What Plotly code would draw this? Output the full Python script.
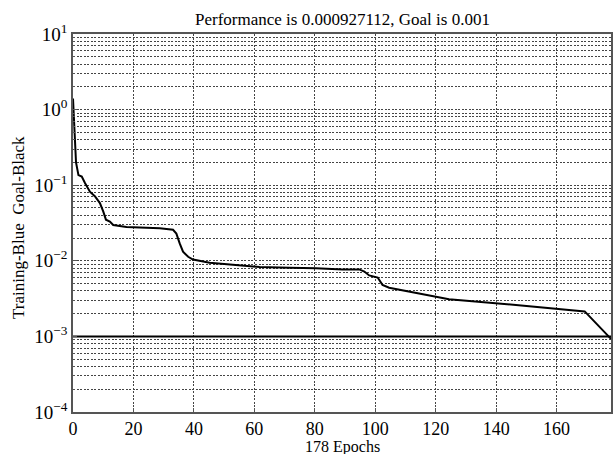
import plotly.graph_objects as go

# Training record: epoch vs. mean squared error
epochs = [0, 0.7, 1, 1.8, 2.9, 4, 5.6, 7.3, 8.9, 10, 10.9, 12.2, 13.3, 17.7,
          23.2, 28.7, 33.1, 34.2, 35.3, 36.4, 38.1, 39.7, 45.2, 50.7, 58.4,
          61.7, 71.6, 80.4, 89.2, 94.7, 96.4, 98, 100.8, 102.4, 104.6, 111.2,
          117.8, 124.4, 139.8, 159.6, 169.3, 178]
performance = [1.4, 0.43, 0.2, 0.136, 0.13, 0.106, 0.082, 0.071, 0.058, 0.045,
               0.035, 0.033, 0.0297, 0.0281, 0.0277, 0.0269, 0.0257, 0.0229,
               0.017, 0.0132, 0.0113, 0.0104, 0.0094, 0.0090, 0.0085, 0.0083,
               0.0081, 0.0080, 0.0077, 0.0077, 0.0072, 0.0064, 0.0060, 0.0048,
               0.0044, 0.0039, 0.0035, 0.0031, 0.00275, 0.00230, 0.00214,
               0.000927112]
goal = 0.001
n_epochs = 178

x_ticks = [0, 20, 40, 60, 80, 100, 120, 140, 160]
y_ticks = [1e-4, 1e-3, 1e-2, 1e-1, 1e0, 1e1]
y_tick_text = ["10<sup>\u22124</sup>", "10<sup>\u22123</sup>", "10<sup>\u22122</sup>",
               "10<sup>\u22121</sup>", "10<sup>0</sup>", "10<sup>1</sup>"]
y_minor = [m * 10.0 ** e for e in range(-4, 1) for m in range(2, 10)]

FONT = "Liberation Serif, Times New Roman, serif"
GRID = "#444444"
GRID_DASH = "2px,1.5px"

fig = go.Figure()

fig.add_trace(go.Scatter(
    x=[0, n_epochs], y=[goal, goal], mode="lines",
    line=dict(color="black", width=2), hoverinfo="skip", showlegend=False))

fig.add_trace(go.Scatter(
    x=epochs, y=performance, mode="lines",
    line=dict(color="black", width=2), showlegend=False))

fig.update_layout(
    width=613, height=454,
    margin=dict(l=73, r=0, t=34, b=42),
    paper_bgcolor="white", plot_bgcolor="white",
    font=dict(family=FONT, color="black"),
    annotations=[
        dict(text=f"Performance is {performance[-1]}, Goal is {goal}",
             xref="paper", yref="paper", x=0.5, y=1, yshift=3,
             xanchor="center", yanchor="bottom", showarrow=False,
             font=dict(size=17, family=FONT)),
        dict(text=f"{n_epochs} Epochs",
             xref="paper", yref="paper", x=0.5, y=0, yshift=-24,
             xanchor="center", yanchor="top", showarrow=False,
             font=dict(size=16, family=FONT)),
        dict(text="Training-Blue  Goal-Black",
             xref="paper", yref="paper", x=0, xshift=-55, y=0.5, yshift=-5,
             xanchor="center", yanchor="middle", textangle=-90,
             showarrow=False, font=dict(size=17, family=FONT)),
    ],
)

fig.update_xaxes(
    range=[0, n_epochs], tickvals=x_ticks,
    tickfont=dict(size=18, family=FONT),
    showgrid=True, gridcolor=GRID, griddash=GRID_DASH, gridwidth=1,
    showline=True, linecolor="#555", linewidth=1.5, mirror=True,
    ticks="inside", ticklen=4, tickcolor="#555",
    zeroline=False,
)

fig.update_yaxes(
    type="log", range=[-4, 1], tickvals=y_ticks, ticktext=y_tick_text,
    tickfont=dict(size=19, family=FONT),
    showgrid=True, gridcolor=GRID, griddash=GRID_DASH, gridwidth=1,
    minor=dict(tickvals=y_minor, showgrid=True, gridcolor=GRID,
               griddash=GRID_DASH, gridwidth=1, ticks="inside", ticklen=2,
               tickcolor="#555"),
    showline=True, linecolor="#555", linewidth=1.5, mirror=True,
    ticks="inside", ticklen=4, tickcolor="#555",
    zeroline=False,
)

fig.write_html("out.html")
